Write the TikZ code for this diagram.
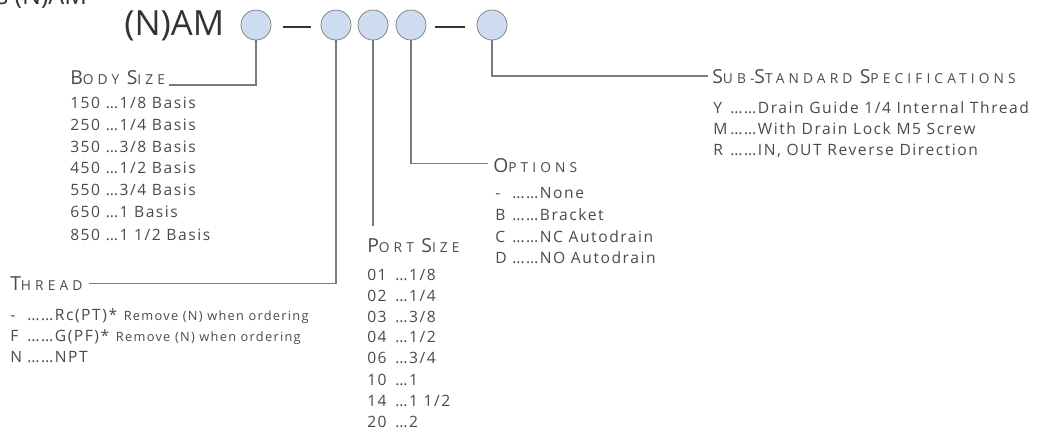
\documentclass[tikz,border=0pt]{standalone}
\usepackage{fontspec}
\setmainfont{Open Sans}
\newfontfamily\tf[LetterSpace=10]{Open Sans}
\newfontfamily\hf[LetterSpace=30]{Open Sans}
\newfontfamily\ttl{Open Sans}
\definecolor{txtgray}{HTML}{4A4A4A}
\definecolor{ttlgray}{HTML}{333333}
\definecolor{circblue}{HTML}{CDDCF1}
\definecolor{circgray}{HTML}{858585}
\definecolor{linegray}{HTML}{7A7A7A}
\newcommand\hd[2]{{\fontsize{14.5}{16}\selectfont #1}{\fontsize{10.3}{12}\selectfont #2}}
\newcommand\cd[2]{\makebox[#1][l]{#2}}
\tikzset{
  txt/.style={anchor=base west, inner sep=0pt, text=txtgray, font=\tf\fontsize{11.7}{13}\selectfont},
  hdr/.style={anchor=base west, inner sep=0pt, text=txtgray, font=\hf},
  selbox/.style={circle, draw=circgray, fill=circblue, line width=0.6pt, minimum size=22.5pt, inner sep=0pt},
  conn/.style={draw=linegray, line width=0.9pt},
  dashline/.style={draw=ttlgray, line width=1.6pt}
}
\begin{document}
\begin{tikzpicture}[x=0.75pt,y=-0.75pt]
\useasboundingbox (0,0) rectangle (1037,429);
% clipped heading at top left
\node[anchor=base west, inner sep=0pt, text=ttlgray, font=\ttl\fontsize{18.8}{22}\selectfont] (toptitle) at (-4,4) {s (N)AM};
% title and selection circles
\node[anchor=base west, inner sep=0pt, text=ttlgray, font=\ttl\fontsize{26}{30}\selectfont] (title) at (124,35) {(N)AM};
\node[selbox] (c1) at (256,25) {};
\node[selbox] (c2) at (336,25) {};
\node[selbox] (c3) at (373,25) {};
\node[selbox] (c4) at (411,25) {};
\node[selbox] (c5) at (492,25) {};
\draw[dashline] ([xshift=9pt,yshift=-1.2pt]c1.east) -- ([xshift=-7.5pt,yshift=-1.2pt]c2.west);
\draw[dashline] ([xshift=6.75pt,yshift=-1.2pt]c4.east) -- ([xshift=-9pt,yshift=-1.2pt]c5.west);
% Body size
\node[hdr] (bodyhdr) at (70,84) {\hd{B}{ODY} \hd{S}{IZE}};
\node[txt] (body0) at (70,108) {150 …1/8 Basis};
\node[txt] (body1) at (70,130) {250 …1/4 Basis};
\node[txt] (body2) at (70,152) {350 …3/8 Basis};
\node[txt] (body3) at (70,173) {450 …1/2 Basis};
\node[txt] (body4) at (70,195) {550 …3/4 Basis};
\node[txt] (body5) at (70,217) {650 …1 Basis};
\node[txt] (body6) at (70,240) {850 …1 1/2 Basis};
\draw[conn] (c1.south) |- ([xshift=3pt,yshift=-0.8pt]bodyhdr.base east);
% Thread
\node[hdr] (thrhdr) at (10,290) {\hd{T}{HREAD}};
\node[txt] (thr0) at (10,320) {\cd{12.75pt}{-}……Rc(PT)*\hspace{5pt}{\fontsize{9.6}{11}\selectfont Remove (N) when ordering}};
\node[txt] (thr1) at (10,341) {\cd{12.75pt}{F}……G(PF)*\hspace{5pt}{\fontsize{9.6}{11}\selectfont Remove (N) when ordering}};
\node[txt] (thr2) at (10,362) {\cd{12.75pt}{N}……NPT};
\draw[conn] (c2.south) |- ([xshift=5pt]thrhdr.east);
% Port size
\node[hdr] (porthdr) at (367,252) {\hd{P}{ORT} \hd{S}{IZE}};
\node[txt] (port0) at (367,280) {\cd{21pt}{01}…1/8};
\node[txt] (port1) at (367,301) {\cd{21pt}{02}…1/4};
\node[txt] (port2) at (367,322) {\cd{21pt}{03}…3/8};
\node[txt] (port3) at (367,342) {\cd{21pt}{04}…1/2};
\node[txt] (port4) at (367,363) {\cd{21pt}{06}…3/4};
\node[txt] (port5) at (367,385) {\cd{21pt}{10}…1};
\node[txt] (port6) at (367,406) {\cd{21pt}{14}…1 1/2};
\node[txt] (port7) at (367,427) {\cd{21pt}{20}…2};
\draw[conn] (c3.south) -- ([yshift=9pt]c3.south |- porthdr.north);
% Options
\node[hdr] (opthdr) at (493,172) {\hd{O}{PTIONS}};
\node[txt] (opt0) at (495,198) {\cd{12.75pt}{-}……None};
\node[txt] (opt1) at (495,220) {\cd{12.75pt}{B}……Bracket};
\node[txt] (opt2) at (495,242) {\cd{12.75pt}{C}……NC Autodrain};
\node[txt] (opt3) at (495,263) {\cd{12.75pt}{D}……NO Autodrain};
\draw[conn] (c4.south) |- ([xshift=-4pt,yshift=1pt]opthdr.west);
% Sub-standard specifications
\node[hdr] (subhdr) at (712,83) {\hd{S}{UB-}\hd{S}{TANDARD} \hd{S}{PECIFICATIONS}};
\node[txt] (sub0) at (713,113) {\cd{12.75pt}{Y}……Drain Guide 1/4 Internal Thread};
\node[txt] (sub1) at (713,134) {\cd{12.75pt}{M}……With Drain Lock M5 Screw};
\node[txt] (sub2) at (713,155) {\cd{12.75pt}{R}……IN, OUT Reverse Direction};
\draw[conn] (c5.south) |- ([xshift=-3pt]subhdr.west);
\end{tikzpicture}
\end{document}
